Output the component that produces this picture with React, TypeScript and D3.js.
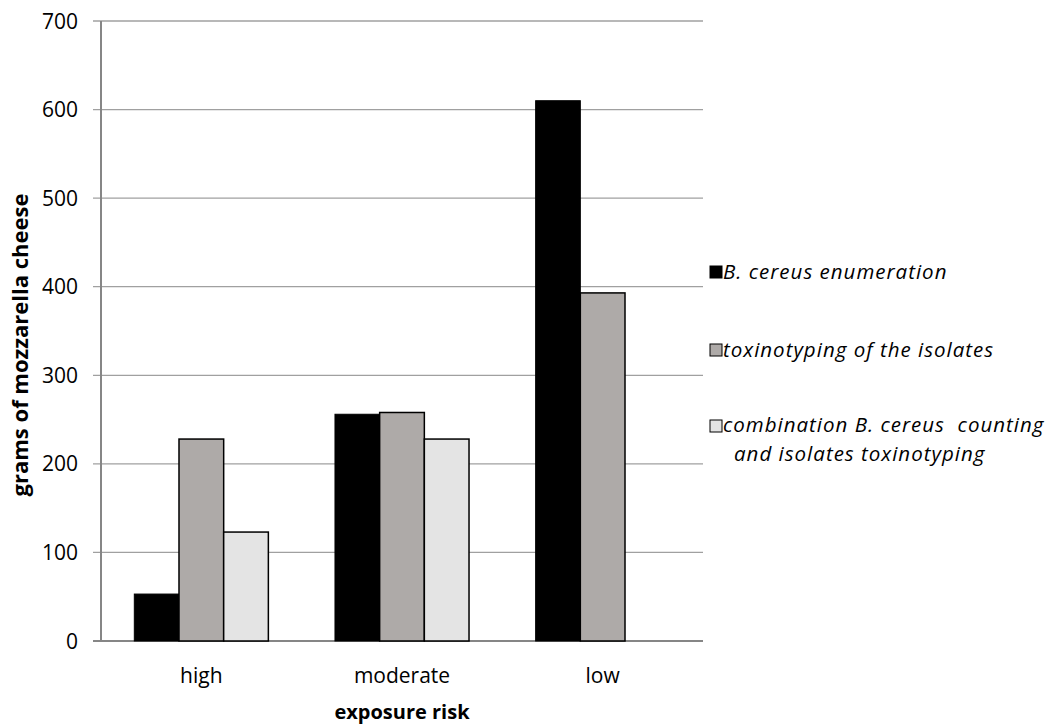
import React from "react";
import * as d3 from "d3";

const categories = ["high", "moderate", "low"];
const seriesNames = [
  ["B. cereus enumeration"],
  ["toxinotyping of the isolates"],
  ["combination B. cereus  counting", "and isolates toxinotyping"],
];
const enumeration = [53, 256, 610];
const toxinotyping = [228, 258, 393];
const combination = [123, 228, 0];
const yTicks = [0, 100, 200, 300, 400, 500, 600, 700];

const W = 1051;
const H = 724;
const left = 101;
const right = 703;
const top = 21;
const bottom = 641;
const colors = ["#000000", "#aeaaa8", "#e4e4e4"];
const font = "'Open Sans', Lato, sans-serif";

export default function App() {
  const x = d3.scaleBand<string>().domain(categories).range([left, right]).paddingInner(0).paddingOuter(0);
  const y = d3.scaleLinear().domain([0, 700]).range([bottom, top]);
  const series = [enumeration, toxinotyping, combination];
  const groupW = x.bandwidth() * 0.668;
  const inner = d3.scaleBand<number>().domain([0, 1, 2]).range([0, groupW]).padding(0);

  return (
    <svg width={W} height={H} style={{ position: "absolute", left: 0, top: 0 }} fontFamily={font}>
      <rect width={W} height={H} fill="#fff" />
      {yTicks.map((t) => (
        <g key={t}>
          <line x1={93} x2={right} y1={y(t)} y2={y(t)} stroke={t === 0 ? "#868686" : "#a0a0a0"} strokeWidth={t === 0 ? 2 : 1.3} />
          <text x={78} y={y(t)} dy="0.36em" textAnchor="end" fontSize={21} fill="#000">
            {t}
          </text>
        </g>
      ))}
      <line x1={left} x2={left} y1={top} y2={bottom} stroke="#868686" strokeWidth={2} />
      {categories.map((c, ci) => {
        const gx = (x(c) as number) + (x.bandwidth() - groupW) / 2;
        return (
          <g key={c}>
            {series.map((s, si) =>
              s[ci] > 0 ? (
                <rect
                  key={si}
                  x={gx + (inner(si) as number)}
                  y={y(s[ci])}
                  width={inner.bandwidth()}
                  height={y(0) - y(s[ci])}
                  fill={colors[si]}
                  stroke="#000"
                  strokeWidth={si === 0 ? 1 : 1.5}
                />
              ) : null
            )}
            <text x={(x(c) as number) + x.bandwidth() / 2} y={675} dy="0.36em" textAnchor="middle" fontSize={21}>
              {c}
            </text>
          </g>
        );
      })}
      <text x={402} y={712} dy="0.36em" textAnchor="middle" fontSize={20} fontWeight="bold">
        exposure risk
      </text>
      <text transform="translate(20,345) rotate(-90)" dy="0.36em" textAnchor="middle" fontSize={22} fontWeight="bold">
        grams of mozzarella cheese
      </text>
      {[272, 350, 425].map((ly, i) => (
        <g key={i}>
          <rect x={710} y={(i === 2 ? ly + 1 : ly) - 6} width={12} height={12} fill={colors[i]} stroke="#000" strokeWidth={1} />
          <text y={ly} fontSize={20.5} fontStyle="italic" letterSpacing={1.0} style={{ whiteSpace: "pre" }}>
            {seriesNames[i].map((line, li) => (
              <tspan key={li} x={li === 0 ? 723 : 734} dy={li === 0 ? "0.36em" : 28.5}>
                {line}
              </tspan>
            ))}
          </text>
        </g>
      ))}
    </svg>
  );
}
